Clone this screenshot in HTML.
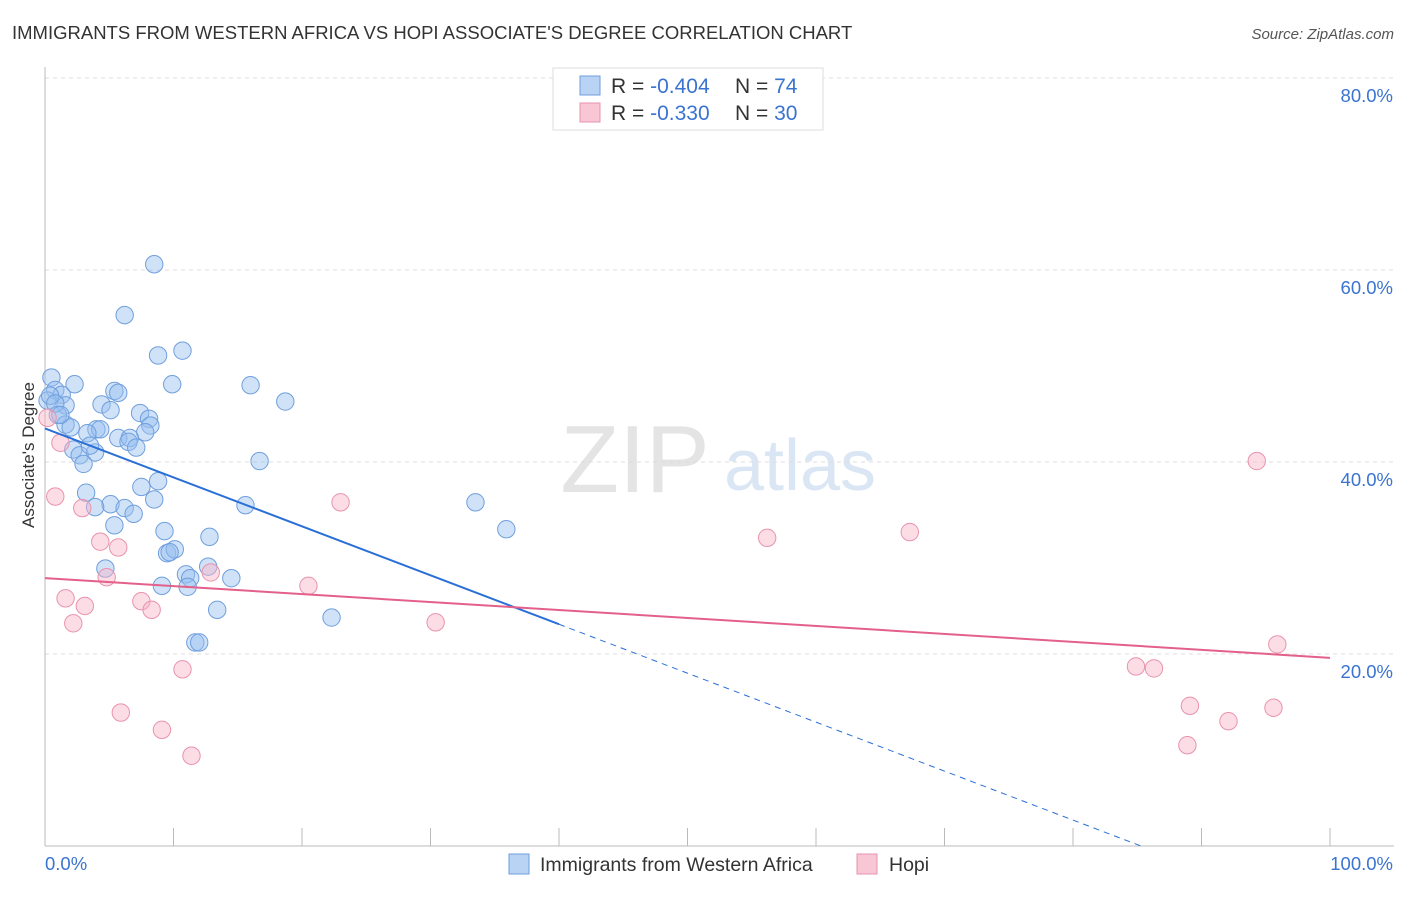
<!DOCTYPE html>
<html><head><meta charset="utf-8">
<style>
body{margin:0;background:#fff;font-family:"Liberation Sans",sans-serif;}
svg text{font-family:"Liberation Sans",sans-serif;}
</style></head>
<body>
<svg id="chart" width="1406" height="892" xmlns="http://www.w3.org/2000/svg">
<text x="12" y="39" font-size="18.5" fill="#333">IMMIGRANTS FROM WESTERN AFRICA VS HOPI ASSOCIATE'S DEGREE CORRELATION CHART</text>
<text x="1394" y="39" font-size="15" fill="#555" font-style="italic" text-anchor="end">Source: ZipAtlas.com</text>
<text x="635" y="492" font-size="96" fill="#e4e4e4" font-family="Liberation Serif" text-anchor="middle">ZIP</text>
<text x="800" y="490" font-size="72" fill="#dbe6f5" text-anchor="middle">atlas</text>
<g id="grid"></g>
<g id="axes"></g>
<g id="marks"></g>
<text x="34" y="455" font-size="17" fill="#333" text-anchor="middle" transform="rotate(-90 34 455)">Associate's Degree</text>
<g>
<rect x="553" y="68" width="270" height="62" fill="#fff" stroke="#ddd"/>
<rect x="580" y="76" width="20" height="19" fill="#b8d3f3" stroke="#6f9fdd"/>
<rect x="580" y="103" width="20" height="19" fill="#f9c6d5" stroke="#e893ad"/>
<text x="611" y="93" font-size="21" fill="#333">R = <tspan fill="#3a74d0">-0.404</tspan></text>
<text x="735" y="93" font-size="21" fill="#333">N = <tspan fill="#3a74d0">74</tspan></text>
<text x="611" y="120" font-size="21" fill="#333">R = <tspan fill="#3a74d0"> -0.330</tspan></text>
<text x="735" y="120" font-size="21" fill="#333">N = <tspan fill="#3a74d0">30</tspan></text>
</g>
<g>
<rect x="509" y="854" width="20" height="20" fill="#b8d3f3" stroke="#6f9fdd"/>
<text x="540" y="871" font-size="19.5" fill="#333">Immigrants from Western Africa</text>
<rect x="857" y="854" width="20" height="20" fill="#f9c6d5" stroke="#e893ad"/>
<text x="889" y="871" font-size="19.5" fill="#333">Hopi</text>
</g>
</svg>
<script>
const yTicks=[20,40,60,80];
const yTickLabels=["20.0%","40.0%","60.0%","80.0%"];
const blueX=[8.5,6.2,8.8,10.7,9.9,16.0,18.7,0.5,2.3,0.8,1.3,5.4,5.7,4.4,1.6,5.1,1.0,7.4,8.1,1.6,2.0,8.2,4.0,4.3,3.3,7.8,5.7,6.6,6.5,7.1,2.2,2.7,3.9,3.5,3.0,16.7,3.2,8.8,7.5,8.5,33.5,5.1,3.9,6.2,6.9,15.6,5.4,9.3,12.8,35.9,9.5,10.1,9.7,4.7,12.7,10.97,11.3,9.1,11.1,14.5,13.4,22.3,11.7,12.0,0.2,0.4,0.8,1.2];
const blueY=[60.6,55.3,51.1,51.6,48.1,48.0,46.3,48.8,48.1,47.5,47.0,47.4,47.2,46.0,45.9,45.4,44.9,45.1,44.5,43.9,43.6,43.8,43.4,43.4,43.0,43.1,42.5,42.5,42.1,41.5,41.3,40.7,41.0,41.7,39.8,40.1,36.8,38.0,37.4,36.1,35.8,35.6,35.3,35.2,34.6,35.5,33.4,32.8,32.2,33.0,30.5,30.9,30.6,28.9,29.1,28.3,27.9,27.1,27.0,27.9,24.6,23.8,21.2,21.2,46.4,46.9,46.1,44.9];
const pinkX=[0.8,1.2,2.9,4.3,5.7,4.8,1.6,3.1,2.2,7.5,8.3,12.9,20.5,23.0,10.7,5.9,9.1,11.4,30.4,56.2,67.3,94.3,95.9,84.9,86.3,89.1,95.6,92.1,88.9,0.2];
const pinkY=[36.4,42.0,35.2,31.7,31.1,28.0,25.8,25.0,23.2,25.5,24.6,28.5,27.1,35.8,18.4,13.9,12.1,9.4,23.3,32.1,32.7,40.1,21.0,18.7,18.5,14.6,14.4,13.0,10.5,44.6];
const blueFit=[43.5,-0.51];
const pinkFit=[27.9,-0.083];
const NS="http://www.w3.org/2000/svg";
const X0=45,X1=1330,Y0=846,PY=9.6;
function sx(v){return X0+(X1-X0)*v/100;}
function sy(v){return Y0-v*PY;}
function mk(t,a,p){const e=document.createElementNS(NS,t);for(const k in a)e.setAttribute(k,a[k]);p.appendChild(e);return e;}
const grid=document.getElementById('grid'),axes=document.getElementById('axes'),marks=document.getElementById('marks');
yTicks.forEach((t,i)=>{
 const l=mk('line',{x1:X0,x2:1394,y1:sy(t),y2:sy(t),stroke:'#ddd','stroke-dasharray':'4,4'},grid);
 
 
 const tx=mk('text',{x:1393,y:sy(t)+24,'font-size':18.5,fill:'#3a74d0','text-anchor':'end'},axes);
 tx.textContent=yTickLabels[i];
 
 
});
mk('line',{x1:X0,x2:1394,y1:Y0,y2:Y0,stroke:'#bbb'},axes);
mk('line',{x1:X0,x2:X0,y1:67,y2:Y0,stroke:'#bbb'},axes);
for(let i=1;i<=10;i++){mk('line',{x1:sx(i*10),x2:sx(i*10),y1:828,y2:Y0,stroke:'#bbb'},axes);}
const xl=mk('text',{x:45,y:870,'font-size':18.5,fill:'#3a74d0'},axes);xl.textContent='0.0%';


const xr=mk('text',{x:1393,y:870,'font-size':18.5,fill:'#3a74d0','text-anchor':'end'},axes);xr.textContent='100.0%';


blueX.forEach((x,i)=>{const c=mk('circle',{cx:sx(x),cy:sy(blueY[i]),r:8.7,fill:'rgba(150,190,240,0.45)',stroke:'#6f9fdd','stroke-width':1},marks);
 
 });
pinkX.forEach((x,i)=>{const c=mk('circle',{cx:sx(x),cy:sy(pinkY[i]),r:8.7,fill:'rgba(248,180,200,0.45)',stroke:'#e893ad','stroke-width':1},marks);
 
 });
const bEnd=40,bZero=-blueFit[0]/blueFit[1];
const b1=mk('line',{x1:sx(0),y1:sy(blueFit[0]),x2:sx(bEnd),y2:sy(blueFit[0]+blueFit[1]*bEnd),stroke:'#2a6fd6','stroke-width':2},marks);


const b2=mk('line',{x1:sx(bEnd),y1:sy(blueFit[0]+blueFit[1]*bEnd),x2:sx(bZero),y2:sy(0),stroke:'#2a6fd6','stroke-width':1,'stroke-dasharray':'6,5'},marks);


const p1=mk('line',{x1:sx(0),y1:sy(pinkFit[0]),x2:sx(100),y2:sy(pinkFit[0]+pinkFit[1]*100),stroke:'#e3608a','stroke-width':2},marks);


</script>
</body></html>
